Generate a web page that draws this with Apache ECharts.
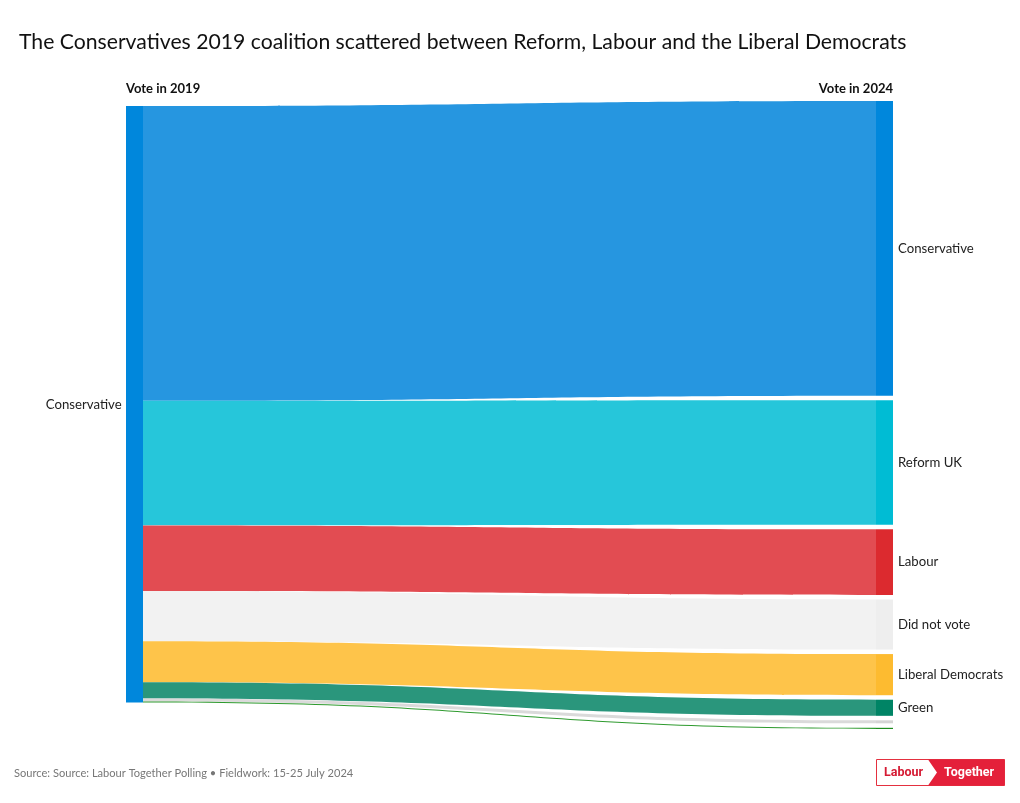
<!DOCTYPE html>
<html><head><meta charset="utf-8">
<script src="https://cdn.jsdelivr.net/npm/echarts@6/dist/echarts.min.js"></script>
<style>html,body{margin:0;padding:0;background:#fff}#c{width:1020px;height:803px}</style>
</head><body><div id="c"></div>
<script>
const sourceNode = 'Conservative ';
const targets = ['Conservative', 'Reform UK', 'Labour', 'Did not vote', 'Liberal Democrats', 'Green', 'Other', 'SNP'];
const values = [49.4, 20.9, 11.0, 8.4, 6.9, 2.7, 0.5, 0.2];
const showLabel = [true, true, true, true, true, true, false, false];
const nodeColors = ['#0087DC', '#00BCD4', '#DC2A2F', '#EEEEEE', '#FDBB30', '#008465', '#D4D4D4', '#1E8B1E'];
const linkColors = ['#2696E0', '#26C6DA', '#E24C52', '#F2F2F2', '#FEC44A', '#2A967C', '#DADADA', '#2E9A2E'];

const chart = echarts.init(document.getElementById('c'));
const nodes = [{name: sourceNode, itemStyle: {color: '#0087DC'}, label: {position: 'left', distance: 1}}];
targets.forEach((t, i) => nodes.push({name: t, itemStyle: {color: nodeColors[i]}, label: {show: showLabel[i]}}));
const links = targets.map((t, i) => ({source: sourceNode, target: t, value: values[i], lineStyle: {color: linkColors[i]}}));

chart.setOption({
  animation: false,
  title: {text: 'The Conservatives 2019 coalition scattered between Reform, Labour and the Liberal Democrats',
    left: 14, top: 27, textStyle: {fontFamily: 'Lato', fontSize: 21.2, fontWeight: 'normal', color: '#111'}},
  graphic: [
    {type: 'text', left: 126, top: 82, style: {text: 'Vote in 2019', font: 'bold 13px Lato', fill: '#111'}},
    {type: 'text', right: 127, top: 82, style: {text: 'Vote in 2024', font: 'bold 13px Lato', fill: '#111', align: 'right'}},
    {type: 'text', left: 14, top: 768, style: {text: 'Source: Source: Labour Together Polling \u2022 Fieldwork: 15-25 July 2024', font: '11.1px Lato', fill: '#777'}},
    {type: 'rect', shape: {x: 876.5, y: 759.5, width: 128, height: 26}, style: {fill: '#fff', stroke: '#E4303F', lineWidth: 1}},
    {type: 'polygon', shape: {points: [[928, 759.5], [1004.5, 759.5], [1004.5, 785.5], [928, 785.5], [937, 772.5]]}, style: {fill: '#E4203A'}},
    {type: 'text', x: 884, y: 772.5, style: {text: 'Labour', font: 'bold 12.5px Roboto', fill: '#D51A33', verticalAlign: 'middle'}},
    {type: 'text', x: 944, y: 772.5, style: {text: 'Together', font: 'bold 12.5px Roboto', fill: '#fff', verticalAlign: 'middle'}}
  ],
  series: [{
    type: 'sankey',
    left: 126, right: 127, top: 101, bottom: 74,
    nodeWidth: 17, nodeGap: 4.5,
    nodeAlign: 'justify',
    draggable: false,
    emphasis: {disabled: true},
    data: nodes,
    links: links,
    label: {fontFamily: 'Lato', fontSize: 13.2, color: '#222', distance: 5},
    lineStyle: {opacity: 1, curveness: 0.5},
    itemStyle: {borderWidth: 0}
  }]
});
</script></body></html>
